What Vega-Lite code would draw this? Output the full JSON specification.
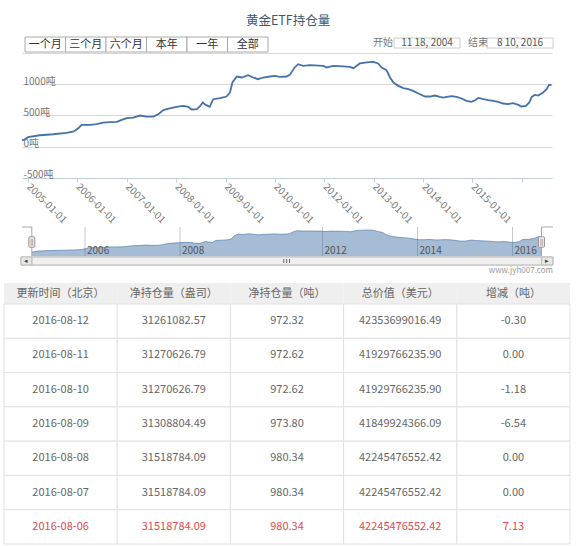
{
  "$schema": "https://vega.github.io/schema/vega-lite/v6.json",
  "width": 576,
  "height": 546,
  "autosize": {"type": "none"},
  "padding": 0,
  "background": "white",
  "config": {"font": "Noto Sans CJK SC", "view": {"stroke": null}},
  "datasets": {
    "series": [
      {"t": -0.12, "v": 100}, {"t": -0.06, "v": 117}, {"t": 0.0, "v": 150}, {"t": 0.24, "v": 181}, {"t": 0.51, "v": 197},
      {"t": 0.78, "v": 218}, {"t": 0.93, "v": 241}, {"t": 1.02, "v": 294}, {"t": 1.09, "v": 347}, {"t": 1.26, "v": 347},
      {"t": 1.39, "v": 358}, {"t": 1.52, "v": 385}, {"t": 1.66, "v": 390}, {"t": 1.80, "v": 395}, {"t": 1.90, "v": 427},
      {"t": 2.0, "v": 454}, {"t": 2.13, "v": 465}, {"t": 2.27, "v": 497}, {"t": 2.40, "v": 481}, {"t": 2.54, "v": 481},
      {"t": 2.64, "v": 518}, {"t": 2.74, "v": 583}, {"t": 2.87, "v": 610}, {"t": 3.01, "v": 636}, {"t": 3.14, "v": 652},
      {"t": 3.25, "v": 636}, {"t": 3.31, "v": 594}, {"t": 3.42, "v": 599}, {"t": 3.48, "v": 642}, {"t": 3.54, "v": 706},
      {"t": 3.60, "v": 668}, {"t": 3.68, "v": 636}, {"t": 3.75, "v": 759}, {"t": 3.89, "v": 775}, {"t": 4.02, "v": 802},
      {"t": 4.09, "v": 867}, {"t": 4.14, "v": 1027}, {"t": 4.23, "v": 1123}, {"t": 4.33, "v": 1107}, {"t": 4.46, "v": 1144},
      {"t": 4.56, "v": 1107}, {"t": 4.66, "v": 1080}, {"t": 4.76, "v": 1107}, {"t": 4.90, "v": 1123}, {"t": 5.0, "v": 1133},
      {"t": 5.10, "v": 1117}, {"t": 5.24, "v": 1123}, {"t": 5.30, "v": 1149}, {"t": 5.40, "v": 1268}, {"t": 5.47, "v": 1321},
      {"t": 5.57, "v": 1294}, {"t": 5.71, "v": 1305}, {"t": 5.98, "v": 1294}, {"t": 6.05, "v": 1268}, {"t": 6.18, "v": 1294},
      {"t": 6.38, "v": 1284}, {"t": 6.52, "v": 1278}, {"t": 6.59, "v": 1257}, {"t": 6.72, "v": 1332}, {"t": 6.86, "v": 1348},
      {"t": 6.99, "v": 1358}, {"t": 7.09, "v": 1332}, {"t": 7.16, "v": 1268}, {"t": 7.26, "v": 1225}, {"t": 7.33, "v": 1107},
      {"t": 7.40, "v": 1027}, {"t": 7.50, "v": 973}, {"t": 7.60, "v": 936}, {"t": 7.70, "v": 920}, {"t": 7.80, "v": 892},
      {"t": 7.94, "v": 839}, {"t": 8.04, "v": 802}, {"t": 8.14, "v": 802}, {"t": 8.24, "v": 818}, {"t": 8.34, "v": 796},
      {"t": 8.41, "v": 786}, {"t": 8.48, "v": 796}, {"t": 8.58, "v": 807}, {"t": 8.68, "v": 796}, {"t": 8.78, "v": 770},
      {"t": 8.88, "v": 732}, {"t": 8.98, "v": 716}, {"t": 9.05, "v": 743}, {"t": 9.12, "v": 780}, {"t": 9.22, "v": 759},
      {"t": 9.32, "v": 743}, {"t": 9.42, "v": 732}, {"t": 9.52, "v": 716}, {"t": 9.62, "v": 690}, {"t": 9.72, "v": 679},
      {"t": 9.82, "v": 695}, {"t": 9.93, "v": 668}, {"t": 9.99, "v": 642}, {"t": 10.08, "v": 652}, {"t": 10.15, "v": 706},
      {"t": 10.20, "v": 796}, {"t": 10.26, "v": 828}, {"t": 10.33, "v": 818}, {"t": 10.43, "v": 867}, {"t": 10.50, "v": 920},
      {"t": 10.55, "v": 989}, {"t": 10.60, "v": 984}
    ],
    "table": [
      {"date": "2016-08-12", "oz": "31261082.57", "ton": "972.32", "usd": "42353699016.49", "chg": "-0.30"},
      {"date": "2016-08-11", "oz": "31270626.79", "ton": "972.62", "usd": "41929766235.90", "chg": "0.00"},
      {"date": "2016-08-10", "oz": "31270626.79", "ton": "972.62", "usd": "41929766235.90", "chg": "-1.18"},
      {"date": "2016-08-09", "oz": "31308804.49", "ton": "973.80", "usd": "41849924366.09", "chg": "-6.54"},
      {"date": "2016-08-08", "oz": "31518784.09", "ton": "980.34", "usd": "42245476552.42", "chg": "0.00"},
      {"date": "2016-08-07", "oz": "31518784.09", "ton": "980.34", "usd": "42245476552.42", "chg": "0.00"},
      {"date": "2016-08-06", "oz": "31518784.09", "ton": "980.34", "usd": "42245476552.42", "chg": "7.13"}
    ]
  },
  "resolve": {"scale": {"x": "independent", "y": "independent"}, "axis": {"x": "independent", "y": "independent"}},
  "layer": [
    {
      "data": {"values": [{"title": "黄金ETF持仓量"}]},
      "mark": {"type": "text", "fontSize": 12.5, "color": "#3E576F"},
      "encoding": {
        "x": {"field": "title", "type": "nominal", "scale": {"type": "point", "range": [0, 576], "padding": 0.5}, "axis": null},
        "y": {"field": "title", "type": "nominal", "scale": {"type": "point", "range": [0, 42], "padding": 0.5}, "axis": null},
        "text": {"field": "title"}
      }
    },
    {
      "data": {"values": [{"b": "一个月"}, {"b": "三个月"}, {"b": "六个月"}, {"b": "本年"}, {"b": "一年"}, {"b": "全部"}]},
      "encoding": {
        "x": {"field": "b", "type": "nominal", "sort": null, "scale": {"type": "band", "range": [25, 268], "paddingInner": 0, "paddingOuter": 0}, "axis": null}
      },
      "layer": [
        {
          "mark": {"type": "rect", "fill": "white", "stroke": "#aaaaaa", "strokeWidth": 1},
          "encoding": {
            "y": {"datum": 0, "type": "quantitative", "scale": {"domain": [0, 1], "range": [52, 37]}, "axis": null},
            "y2": {"datum": 1}
          }
        },
        {
          "mark": {"type": "text", "fontSize": 11, "color": "#333333"},
          "encoding": {
            "y": {"datum": 0.5, "type": "quantitative", "scale": {"domain": [0, 1], "range": [52, 37]}, "axis": null},
            "text": {"field": "b"}
          }
        }
      ]
    },
    {
      "data": {"values": [{"k": "开始", "v": "11 18, 2004"}, {"k": "结束", "v": "8 10, 2016"}]},
      "resolve": {"scale": {"x": "independent"}},
      "layer": [
        {
          "mark": {"type": "rect", "fill": "white", "stroke": "#cccccc", "strokeWidth": 1},
          "encoding": {
            "x": {"field": "v", "type": "nominal", "sort": null, "scale": {"type": "band", "range": [394, 553], "paddingInner": 0.29, "paddingOuter": 0}, "axis": null},
            "y": {"datum": 0, "type": "quantitative", "scale": {"domain": [0, 1], "range": [48, 38]}, "axis": null},
            "y2": {"datum": 1}
          }
        },
        {
          "mark": {"type": "text", "fontSize": 10, "color": "#555555"},
          "encoding": {
            "x": {"field": "v", "type": "nominal", "sort": null, "scale": {"type": "band", "range": [394, 553], "paddingInner": 0.29, "paddingOuter": 0}, "axis": null},
            "y": {"datum": 0.5, "type": "quantitative", "scale": {"domain": [0, 1], "range": [48, 38]}, "axis": null},
            "text": {"field": "v"}
          }
        },
        {
          "mark": {"type": "text", "fontSize": 10, "color": "#777777"},
          "encoding": {
            "x": {"field": "k", "type": "nominal", "sort": null, "scale": {"type": "point", "range": [383, 478], "padding": 0}, "axis": null},
            "y": {"datum": 0.5, "type": "quantitative", "scale": {"domain": [0, 1], "range": [48, 38]}, "axis": null},
            "text": {"field": "k"}
          }
        }
      ]
    },
    {
      "data": {"name": "series"},
      "mark": {"type": "line", "color": "#4572A7", "strokeWidth": 1.8},
      "encoding": {
        "x": {
          "field": "t", "type": "quantitative",
          "scale": {"domain": [-0.12, 10.61], "range": [22, 552], "nice": false, "zero": false},
          "axis": {
            "orient": "bottom", "offset": -368, "title": null, "grid": false,
            "values": [0, 1, 2, 3, 4, 5, 6, 7, 8, 9, 10],
            "labelExpr": "datum.value <= 5 ? (2005 + datum.value) + '-01-01' : (datum.value <= 9 ? (2006 + datum.value) + '-01-01' : '')",
            "labelAngle": 45, "labelAlign": "left", "labelBaseline": "middle", "labelPadding": 3,
            "tickSize": 4, "tickColor": "#C0D0E0", "domainColor": "#C0D0E0",
            "labelColor": "#777777", "labelFontSize": 10, "labelOverlap": false, "labelFlush": false, "labelBound": false
          }
        },
        "y": {
          "field": "v", "type": "quantitative",
          "scale": {"domain": [-500, 1500], "range": [177.7, 53], "nice": false, "zero": false},
          "axis": {
            "orient": "left", "title": null, "values": [-500, 0, 500, 1000, 1500],
            "labelExpr": "datum.value == 1500 ? '' : datum.value + '吨'",
            "grid": true, "gridColor": "#d9d9d9", "domain": false, "ticks": false,
            "labelAlign": "left", "labelBaseline": "alphabetic", "labelPadding": -23,
            "labelColor": "#777777", "labelFontSize": 10, "labelBound": false, "labelOverlap": false
          }
        }
      }
    },
    {
      "layer": [
        {
          "data": {"values": [{"t": 1, "lab": "2006"}, {"t": 3, "lab": "2008"}, {"t": 6, "lab": "2012"}, {"t": 8, "lab": "2014"}, {"t": 10, "lab": "2016"}]},
          "mark": {"type": "rule", "color": "#c8c8c8", "strokeWidth": 1},
          "encoding": {
            "x": {"field": "t", "type": "quantitative", "scale": {"domain": [-0.12, 10.61], "range": [31.8, 541.5], "nice": false, "zero": false}, "axis": null},
            "y": {"datum": 1529, "type": "quantitative", "scale": {"domain": [-129, 1529], "range": [256, 227], "nice": false, "zero": false}, "axis": null},
            "y2": {"datum": -129}
          }
        },
        {
          "data": {"name": "series"},
          "mark": {"type": "area", "color": "#4572A7", "fillOpacity": 0.48},
          "encoding": {
            "x": {"field": "t", "type": "quantitative", "scale": {"domain": [-0.12, 10.61], "range": [31.8, 541.5], "nice": false, "zero": false}, "axis": null},
            "y": {"field": "v", "type": "quantitative", "scale": {"domain": [-129, 1529], "range": [256, 227], "nice": false, "zero": false}, "axis": null},
            "y2": {"datum": -129}
          }
        },
        {
          "data": {"name": "series"},
          "mark": {"type": "line", "color": "#4572A7", "strokeWidth": 1, "opacity": 0.6},
          "encoding": {
            "x": {"field": "t", "type": "quantitative", "scale": {"domain": [-0.12, 10.61], "range": [31.8, 541.5], "nice": false, "zero": false}, "axis": null},
            "y": {"field": "v", "type": "quantitative", "scale": {"domain": [-129, 1529], "range": [256, 227], "nice": false, "zero": false}, "axis": null}
          }
        },
        {
          "data": {"values": [{"t": 1, "lab": "2006"}, {"t": 3, "lab": "2008"}, {"t": 6, "lab": "2012"}, {"t": 8, "lab": "2014"}, {"t": 10, "lab": "2016"}]},
          "mark": {"type": "text", "align": "left", "dx": 2, "fontSize": 10, "color": "#555555"},
          "encoding": {
            "x": {"field": "t", "type": "quantitative", "scale": {"domain": [-0.12, 10.61], "range": [31.8, 541.5], "nice": false, "zero": false}, "axis": null},
            "y": {"datum": 157, "type": "quantitative", "scale": {"domain": [-129, 1529], "range": [256, 227], "nice": false, "zero": false}, "axis": null},
            "text": {"field": "lab"}
          }
        },
        {
          "data": {"values": [{"a": -0.33, "b": -0.12}, {"a": 10.61, "b": 10.85}]},
          "mark": {"type": "rule", "color": "#a8a8a8", "strokeWidth": 1},
          "encoding": {
            "x": {"field": "a", "type": "quantitative", "scale": {"domain": [-0.12, 10.61], "range": [31.8, 541.5], "nice": false, "zero": false}, "axis": null},
            "x2": {"field": "b"},
            "y": {"datum": 1529, "type": "quantitative", "scale": {"domain": [-129, 1529], "range": [256, 227], "nice": false, "zero": false}, "axis": null}
          }
        },
        {
          "data": {"values": [{"t": -0.12}, {"t": 10.61}]},
          "mark": {"type": "rule", "color": "#a8a8a8", "strokeWidth": 1},
          "encoding": {
            "x": {"field": "t", "type": "quantitative", "scale": {"domain": [-0.12, 10.61], "range": [31.8, 541.5], "nice": false, "zero": false}, "axis": null},
            "y": {"datum": 1529, "type": "quantitative", "scale": {"domain": [-129, 1529], "range": [256, 227], "nice": false, "zero": false}, "axis": null},
            "y2": {"datum": -129}
          }
        },
        {
          "data": {"values": [{"t": -0.12}, {"t": 10.61}]},
          "mark": {"type": "rect", "fill": "#ebe7e8", "stroke": "#999999", "strokeWidth": 1, "xOffset": -3, "x2Offset": 3, "cornerRadius": 1},
          "encoding": {
            "x": {"field": "t", "type": "quantitative", "scale": {"domain": [-0.12, 10.61], "range": [31.8, 541.5], "nice": false, "zero": false}, "axis": null},
            "x2": {"field": "t"},
            "y": {"datum": 974, "type": "quantitative", "scale": {"domain": [-129, 1529], "range": [256, 227], "nice": false, "zero": false}, "axis": null},
            "y2": {"datum": 368}
          }
        },
        {
          "data": {"values": [{"t": -0.12}, {"t": 10.61}]},
          "mark": {"type": "text", "text": "||", "fontSize": 6, "color": "#555555"},
          "encoding": {
            "x": {"field": "t", "type": "quantitative", "scale": {"domain": [-0.12, 10.61], "range": [31.8, 541.5], "nice": false, "zero": false}, "axis": null},
            "y": {"datum": 671, "type": "quantitative", "scale": {"domain": [-129, 1529], "range": [256, 227], "nice": false, "zero": false}, "axis": null}
          }
        },
        {
          "data": {"values": [{"part": "track", "a": -0.347, "b": 10.85}, {"part": "thumb", "a": -0.12, "b": 10.61}, {"part": "left", "a": -0.347, "b": -0.12}, {"part": "right", "a": 10.61, "b": 10.85}]},
          "mark": {"type": "rect", "stroke": "#bbbbbb", "strokeWidth": 1},
          "encoding": {
            "x": {"field": "a", "type": "quantitative", "scale": {"domain": [-0.12, 10.61], "range": [31.8, 541.5], "nice": false, "zero": false}, "axis": null},
            "x2": {"field": "b"},
            "y": {"datum": -186, "type": "quantitative", "scale": {"domain": [-129, 1529], "range": [256, 227], "nice": false, "zero": false}, "axis": null},
            "y2": {"datum": -644},
            "fill": {"field": "part", "type": "nominal", "scale": {"domain": ["track", "thumb", "left", "right"], "range": ["#e4e4e4", "#efefef", "#e6e6e6", "#e6e6e6"]}, "legend": null}
          }
        },
        {
          "data": {"values": [{"g": 5.185}, {"g": 5.245}, {"g": 5.305}]},
          "mark": {"type": "rule", "color": "#666666", "strokeWidth": 1},
          "encoding": {
            "x": {"field": "g", "type": "quantitative", "scale": {"domain": [-0.12, 10.61], "range": [31.8, 541.5], "nice": false, "zero": false}, "axis": null},
            "y": {"datum": -300, "type": "quantitative", "scale": {"domain": [-129, 1529], "range": [256, 227], "nice": false, "zero": false}, "axis": null},
            "y2": {"datum": -530}
          }
        },
        {
          "data": {"values": [{"sym": "◂", "t": -0.233}, {"sym": "▸", "t": 10.73}]},
          "mark": {"type": "text", "fontSize": 7, "color": "#444444"},
          "encoding": {
            "x": {"field": "t", "type": "quantitative", "scale": {"domain": [-0.12, 10.61], "range": [31.8, 541.5], "nice": false, "zero": false}, "axis": null},
            "y": {"datum": -415, "type": "quantitative", "scale": {"domain": [-129, 1529], "range": [256, 227], "nice": false, "zero": false}, "axis": null},
            "text": {"field": "sym"}
          }
        },
        {
          "data": {"values": [{"site": "www.jyh007.com", "t": 10.85}]},
          "mark": {"type": "text", "align": "right", "fontSize": 8, "color": "#999999"},
          "encoding": {
            "x": {"field": "t", "type": "quantitative", "scale": {"domain": [-0.12, 10.61], "range": [31.8, 541.5], "nice": false, "zero": false}, "axis": null},
            "y": {"datum": -987, "type": "quantitative", "scale": {"domain": [-129, 1529], "range": [256, 227], "nice": false, "zero": false}, "axis": null},
            "text": {"field": "site"}
          }
        }
      ]
    },
    {
      "data": {"values": [{"h": "更新时间（北京）"}, {"h": "净持仓量（盎司）"}, {"h": "净持仓量（吨）"}, {"h": "总价值（美元）"}, {"h": "增减（吨）"}]},
      "encoding": {
        "x": {"field": "h", "type": "nominal", "sort": null, "scale": {"type": "band", "range": [4, 570], "paddingInner": 0, "paddingOuter": 0}, "axis": null}
      },
      "layer": [
        {
          "mark": {"type": "rect", "fill": "#efefef"},
          "encoding": {
            "y": {"datum": 0, "type": "quantitative", "scale": {"domain": [0, 1], "range": [304, 283]}, "axis": null},
            "y2": {"datum": 1}
          }
        },
        {
          "mark": {"type": "text", "fontSize": 11, "color": "#666666"},
          "encoding": {
            "y": {"datum": 0.5, "type": "quantitative", "scale": {"domain": [0, 1], "range": [304, 283]}, "axis": null},
            "text": {"field": "h"}
          }
        }
      ]
    },
    {
      "data": {"name": "table"},
      "transform": [{"fold": ["date", "oz", "ton", "usd", "chg"], "as": ["col", "val"]}],
      "encoding": {
        "x": {"field": "col", "type": "nominal", "scale": {"type": "band", "domain": ["date", "oz", "ton", "usd", "chg"], "range": [4, 570], "paddingInner": 0, "paddingOuter": 0}, "axis": null},
        "y": {"field": "date", "type": "nominal", "scale": {"type": "band", "domain": ["2016-08-12", "2016-08-11", "2016-08-10", "2016-08-09", "2016-08-08", "2016-08-07", "2016-08-06"], "range": [304, 544], "paddingInner": 0, "paddingOuter": 0}, "axis": null}
      },
      "layer": [
        {"mark": {"type": "rect", "fill": "white", "stroke": "#e2e2e2", "strokeWidth": 1}},
        {
          "mark": {"type": "text", "fontSize": 11},
          "encoding": {
            "text": {"field": "val"},
            "color": {"condition": {"test": "datum.date === '2016-08-06'", "value": "#e5484d"}, "value": "#666666"}
          }
        }
      ]
    }
  ]
}
